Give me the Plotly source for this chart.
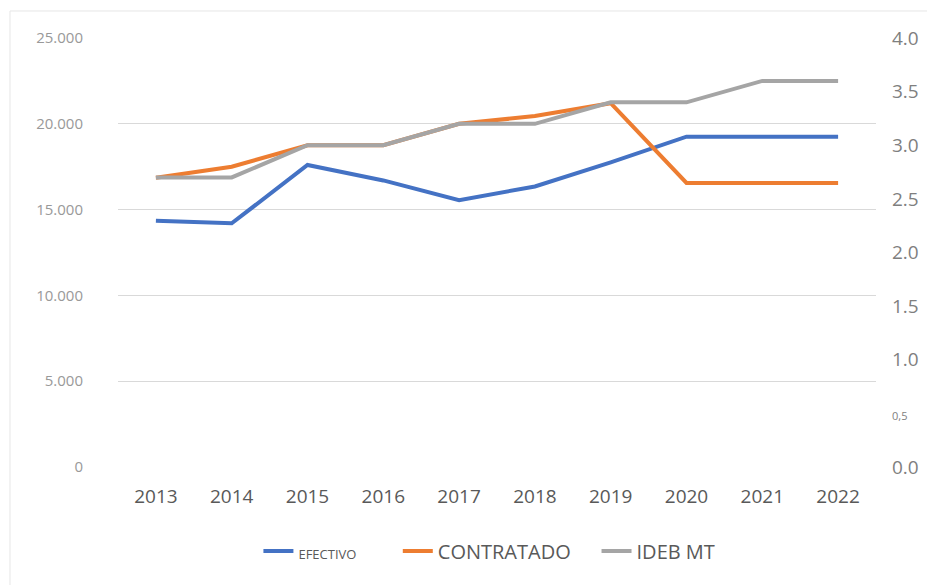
import plotly.graph_objects as go

years = ["2013", "2014", "2015", "2016", "2017", "2018", "2019", "2020", "2021", "2022"]
efectivo = [14350, 14200, 17600, 16700, 15550, 16350, 17750, 19250, 19250, 19250]
contratado = [16850, 17500, 18750, 18750, 20000, 20450, 21200, 16550, 16550, 16550]
ideb_mt = [2.7, 2.7, 3.0, 3.0, 3.2, 3.2, 3.4, 3.4, 3.6, 3.6]

left_ticks = [0, 5000, 10000, 15000, 20000, 25000]
left_text = ["0", "5.000", "10.000", "15.000", "20.000", "25.000"]
right_ticks = [0, 0.5, 1, 1.5, 2, 2.5, 3, 3.5, 4]
right_text = ["0.0", "<span style='font-size:11px'>0,5</span>", "1.0", "1.5", "2.0", "2.5", "3.0", "3.5", "4.0"]

NB = "\u00a0"
fig = go.Figure()
fig.add_trace(go.Scatter(x=years, y=efectivo, mode="lines",
                         name="<span style='font-size:13px'>EFECTIVO</span>" + NB * 7,
                         line=dict(color="#4472C4", width=4)))
fig.add_trace(go.Scatter(x=years, y=contratado, mode="lines", name="CONTRATADO" + NB * 4,
                         line=dict(color="#ED7D31", width=4)))
fig.add_trace(go.Scatter(x=years, y=ideb_mt, mode="lines", name="IDEB MT", yaxis="y2",
                         line=dict(color="#A5A5A5", width=4)))

fig.update_layout(
    width=927, height=577,
    margin=dict(l=110, r=59, t=30, b=118),
    paper_bgcolor="white", plot_bgcolor="white",
    font=dict(family="Open Sans, sans-serif", color="#595959", size=16),
    showlegend=True,
    legend=dict(orientation="h", x=0.49, xanchor="center", y=-0.196, yanchor="middle",
                font=dict(size=20, color="#595959"), traceorder="normal"),
    xaxis=dict(type="category", range=[-0.5, 9.5], showgrid=False, showline=False, ticks="",
               tickfont=dict(size=19, color="#595959"), ticklabelstandoff=16),
    yaxis=dict(range=[0, 25000], tickvals=left_ticks, ticktext=left_text,
               showgrid=True, gridcolor="#d9d9d9", gridwidth=1, zeroline=False,
               tickfont=dict(size=15, color="#999999"), ticklabelstandoff=34),
    yaxis2=dict(range=[0, 4], tickvals=right_ticks, ticktext=right_text,
                overlaying="y", side="right", showgrid=False, zeroline=False,
                tickfont=dict(size=19, color="#7f7f7f"), ticklabelstandoff=15),
    shapes=[dict(type="rect", xref="paper", yref="paper",
                 x0=-0.1425, x1=1.3, y0=-0.6, y1=1.063,
                 line=dict(color="#e6e6e6", width=1), layer="below")],
)

fig.write_html("out.html")
